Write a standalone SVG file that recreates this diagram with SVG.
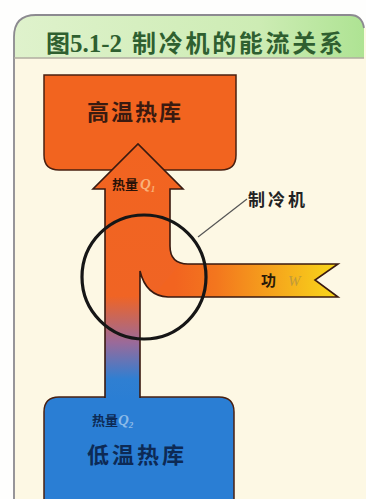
<svg xmlns="http://www.w3.org/2000/svg" width="366" height="499" viewBox="0 0 366 499">
<defs>
<linearGradient id="hdr" x1="0" y1="0" x2="1" y2="0">
<stop offset="0" stop-color="#dff2cc"/>
<stop offset="0.7" stop-color="#cdecb4"/>
<stop offset="1" stop-color="#aee393"/>
</linearGradient>
<linearGradient id="flowV" gradientUnits="userSpaceOnUse" x1="0" y1="140" x2="0" y2="400">
<stop offset="0" stop-color="#f26420"/>
<stop offset="0.6" stop-color="#f06424"/>
<stop offset="0.78" stop-color="#9a6a9a"/>
<stop offset="0.92" stop-color="#2f7fd2"/>
<stop offset="1" stop-color="#2a7ed4"/>
</linearGradient>
<linearGradient id="flowH" gradientUnits="userSpaceOnUse" x1="175" y1="0" x2="338" y2="0">
<stop offset="0" stop-color="#f26420"/>
<stop offset="0.25" stop-color="#f3761e"/>
<stop offset="1" stop-color="#f8d81a"/>
</linearGradient>
<style>
.cjk{font-family:"Noto Sans CJK SC","Noto Sans",sans-serif;font-weight:bold}
.box{stroke:#4a2010;stroke-width:1.5}
.q{font-family:"Liberation Serif",serif;font-style:italic}
</style>
</defs>
<rect width="366" height="499" fill="#fefefd"/>
<path d="M14,499 L14,37 Q14,15 36,15 L350,15 Q362,15 364,28 L366,28 L366,499 Z" fill="#fdf8e4"/>
<path d="M14,58 L14,37 Q14,15 36,15 L350,15 Q362,15 364,28 L364,58 Z" fill="url(#hdr)"/>
<path d="M14,499 L14,37 Q14,15 36,15 L350,15 Q362,15 364,28" fill="none" stroke="#8c8a90" stroke-width="1.8"/>
<line x1="14" y1="58" x2="364" y2="58" stroke="#b0aca0" stroke-width="1.5"/>
<g id="title">
<text x="46" y="52" class="cjk" font-size="24" fill="#2f5f30">图<tspan font-family="Liberation Serif,serif" font-size="25">5.1-2</tspan></text>
<text x="132" y="52" class="cjk" font-size="24" fill="#2f5f30" textLength="211">制冷机的能流关系</text>
</g>
<g id="hot">
<path class="box" d="M44,75 L236,75 L236,155 Q236,170 221,170 L59,170 Q44,170 44,155 Z" fill="#f2641f"/>
<text x="135" y="120" class="cjk" font-size="22" fill="#3a1a10" text-anchor="middle" letter-spacing="2">高温热库</text>
</g>
<g id="cold">
<path class="box" d="M44,499 L44,412 Q44,397 59,397 L219,397 Q234,397 234,412 L234,499" fill="#2a7ed4" stroke="#10203a"/>
<text x="92" y="425" class="cjk" font-size="13" fill="#0d2a55">热量<tspan class="q" font-size="15" fill="#8dbbe8">Q</tspan><tspan class="q" font-size="9" dy="3" fill="#8dbbe8">2</tspan></text>
<text x="137" y="463" class="cjk" font-size="22" fill="#0d2a55" text-anchor="middle" letter-spacing="3">低温热库</text>
</g>
<g id="connectors">
<path d="M105,401 L105,189 L93,189 L138,144 L183,189 L170,189 L170,246 Q170,264 188,264 L200,264 L200,297 L168,297 Q146,296 140,271 L140,401 Z" fill="url(#flowV)"/>
<path d="M180,264 L338,264 L315,280 L338,297 L168,297 Q160,297 158,290 L180,264 Z" fill="url(#flowH)"/>
<path d="M105,398 L105,189 L93,189 L138,144 L183,189 L170,189 L170,246 Q170,264 188,264 L338,264 L315,280 L338,297 L168,297 Q146,296 140,271 L140,398" fill="none" stroke="#3a1a10" stroke-width="1.6" stroke-linejoin="miter"/>
<line x1="198" y1="237" x2="247" y2="199" stroke="#555" stroke-width="1.2"/>
</g>
<g id="machine">
<circle cx="144" cy="277" r="62" fill="none" stroke="#161616" stroke-width="3.2"/>
<text x="248" y="206" class="cjk" font-size="17" fill="#222" letter-spacing="3">制冷机</text>
</g>
<g id="labels">
<text x="112" y="189" class="cjk" font-size="13" fill="#2a1208">热量<tspan class="q" font-size="15" fill="#f9b27a" dx="2">Q</tspan><tspan class="q" font-size="9" dy="3" fill="#f9b27a">1</tspan></text>
<text x="261" y="286" class="cjk" font-size="15" fill="#2a1a08">功</text>
<text x="288" y="286" class="q" font-size="15" fill="#c09a3a">W</text>
</g>
</svg>
